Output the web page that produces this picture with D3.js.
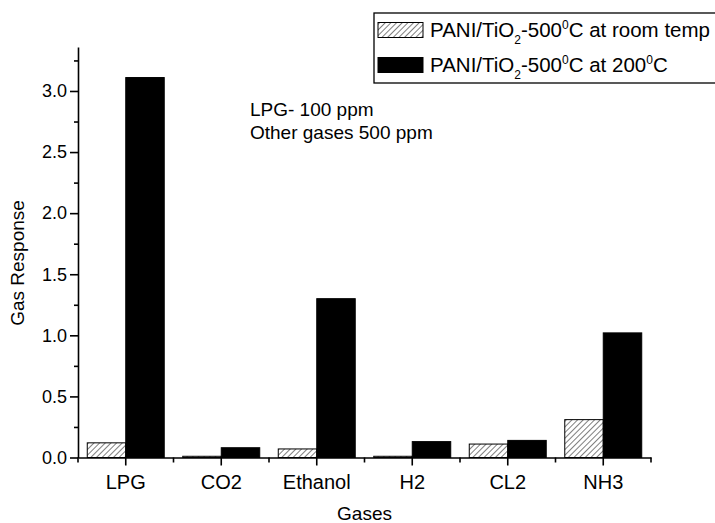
<!DOCTYPE html>
<html>
<head>
<meta charset="utf-8">
<script src="https://cdn.jsdelivr.net/npm/d3@7"></script>
<style>
  body { margin: 0; background: #fff; }
  text { font-family: "Liberation Sans", Arial, sans-serif; fill: #000; }
</style>
</head>
<body>
<div id="chart"></div>
<script>
const GASES = ["LPG", "CO2", "Ethanol", "H2", "CL2", "NH3"];
const ROOM_TEMP = [0.12, 0.01, 0.07, 0.01, 0.11, 0.31];
const AT_200C = [3.11, 0.08, 1.30, 0.13, 0.14, 1.02];
const Y_TICKS = [0, 0.5, 1.0, 1.5, 2.0, 2.5, 3.0];
const Y_MINOR = [0.25, 0.75, 1.25, 1.75, 2.25, 2.75, 3.25];

const W = 715, H = 523;
const PLOT = { left: 78, right: 651, top: 47, bottom: 457.5 };

const svg = d3.select("#chart").append("svg")
    .attr("width", W)
    .attr("height", H);

// hatch pattern for room temp series
const defs = svg.append("defs");
const pat = defs.append("pattern")
    .attr("id", "hatch")
    .attr("patternUnits", "userSpaceOnUse")
    .attr("width", 4)
    .attr("height", 4)
    .attr("patternTransform", "rotate(45)");
pat.append("rect").attr("width", 4).attr("height", 4).attr("fill", "#fff");
pat.append("line")
    .attr("x1", 0).attr("y1", 0).attr("x2", 0).attr("y2", 4)
    .attr("stroke", "#000").attr("stroke-width", 1);

// SCALES
const x = d3.scaleBand()
    .domain(GASES)
    .range([PLOT.left, PLOT.right])
    .padding(0);

const bw = x.bandwidth();
const x1 = d3.scaleBand()
    .domain(["room", "hot"])
    .range([bw * 0.097, bw * 0.903])
    .padding(0);

const y = d3.scaleLinear()
    .domain([0, 3.36])
    .range([PLOT.bottom, PLOT.top]);

// BARS
const groups = svg.selectAll("g.grp")
    .data(GASES)
    .enter().append("g")
    .attr("class", "grp")
    .attr("transform", d => `translate(${x(d)},0)`);

groups.append("rect")
    .attr("x", x1("room"))
    .attr("y", (d, i) => y(ROOM_TEMP[i]))
    .attr("width", x1.bandwidth())
    .attr("height", (d, i) => y(0) - y(ROOM_TEMP[i]))
    .attr("fill", "url(#hatch)")
    .attr("stroke", "#000")
    .attr("stroke-width", 1);

groups.append("rect")
    .attr("x", x1("hot"))
    .attr("y", (d, i) => y(AT_200C[i]))
    .attr("width", x1.bandwidth())
    .attr("height", (d, i) => y(0) - y(AT_200C[i]))
    .attr("fill", "#000")
    .attr("stroke", "#000")
    .attr("stroke-width", 1);

// Y AXIS
const yAxis = svg.append("g")
    .attr("transform", `translate(${PLOT.left},0)`)
    .call(d3.axisLeft(y)
        .tickValues(Y_TICKS)
        .tickSize(8)
        .tickSizeOuter(0)
        .tickPadding(3)
        .tickFormat(d3.format(".1f")));
svg.append("g")
    .attr("transform", `translate(${PLOT.left},0)`)
    .call(d3.axisLeft(y).tickValues(Y_MINOR).tickSize(4).tickSizeOuter(0).tickFormat(""))
    .select(".domain").remove();

// X AXIS
const xAxis = svg.append("g")
    .attr("transform", `translate(0,${PLOT.bottom})`)
    .call(d3.axisBottom(x)
        .tickSize(8)
        .tickSizeOuter(0)
        .tickPadding(9));
const bounds = GASES.map(d => x(d)).concat([PLOT.right]);
svg.append("g")
    .attr("transform", `translate(0,${PLOT.bottom})`)
    .selectAll("line")
    .data(bounds)
    .enter().append("line")
    .attr("x1", d => d).attr("x2", d => d)
    .attr("y1", 0).attr("y2", 5)
    .attr("stroke", "#000")
    .attr("stroke-width", 1.6);

svg.selectAll(".domain, .tick line")
    .attr("stroke", "#000")
    .attr("stroke-width", 1.6);
yAxis.selectAll("text").style("font-size", "18px");
xAxis.selectAll("text").style("font-size", "20px");

// AXIS TITLES
svg.append("text")
    .attr("x", (PLOT.left + PLOT.right) / 2)
    .attr("y", 520)
    .attr("text-anchor", "middle")
    .style("font-size", "19px")
    .text("Gases");

svg.append("text")
    .attr("transform", "translate(24,263) rotate(-90)")
    .attr("text-anchor", "middle")
    .style("font-size", "19px")
    .text("Gas Response");

// ANNOTATION
const note = svg.append("text")
    .attr("x", 250)
    .style("font-size", "19px");
note.append("tspan").attr("x", 250).attr("y", 116).text("LPG- 100 ppm");
note.append("tspan").attr("x", 250).attr("y", 139).text("Other gases 500 ppm");

// LEGEND
const legend = svg.append("g");
legend.append("rect")
    .attr("x", 374).attr("y", 13)
    .attr("width", 350).attr("height", 70)
    .attr("fill", "#fff")
    .attr("stroke", "#000")
    .attr("stroke-width", 1.3);

const legItems = [
    { fill: "url(#hatch)", cy: 30 },
    { fill: "#000", cy: 65 }
];
legItems.forEach((it, k) => {
    legend.append("rect")
        .attr("x", 378).attr("y", it.cy - 7.5)
        .attr("width", 45).attr("height", 15)
        .attr("fill", it.fill)
        .attr("stroke", "#000")
        .attr("stroke-width", 1);
    const t = legend.append("text")
        .attr("x", 430).attr("y", it.cy + 7)
        .style("font-size", "20.5px");
    t.append("tspan").text("PANI/TiO");
    t.append("tspan").attr("dy", 7).style("font-size", "12px").text("2");
    t.append("tspan").attr("dy", -7).text("-500");
    t.append("tspan").attr("dy", -8).style("font-size", "12px").text("0");
    if (k === 0) {
        t.append("tspan").attr("dy", 8).text("C at room temp");
    } else {
        t.append("tspan").attr("dy", 8).text("C at 200");
        t.append("tspan").attr("dy", -8).style("font-size", "12px").text("0");
        t.append("tspan").attr("dy", 8).text("C");
    }
});
</script>
</body>
</html>
